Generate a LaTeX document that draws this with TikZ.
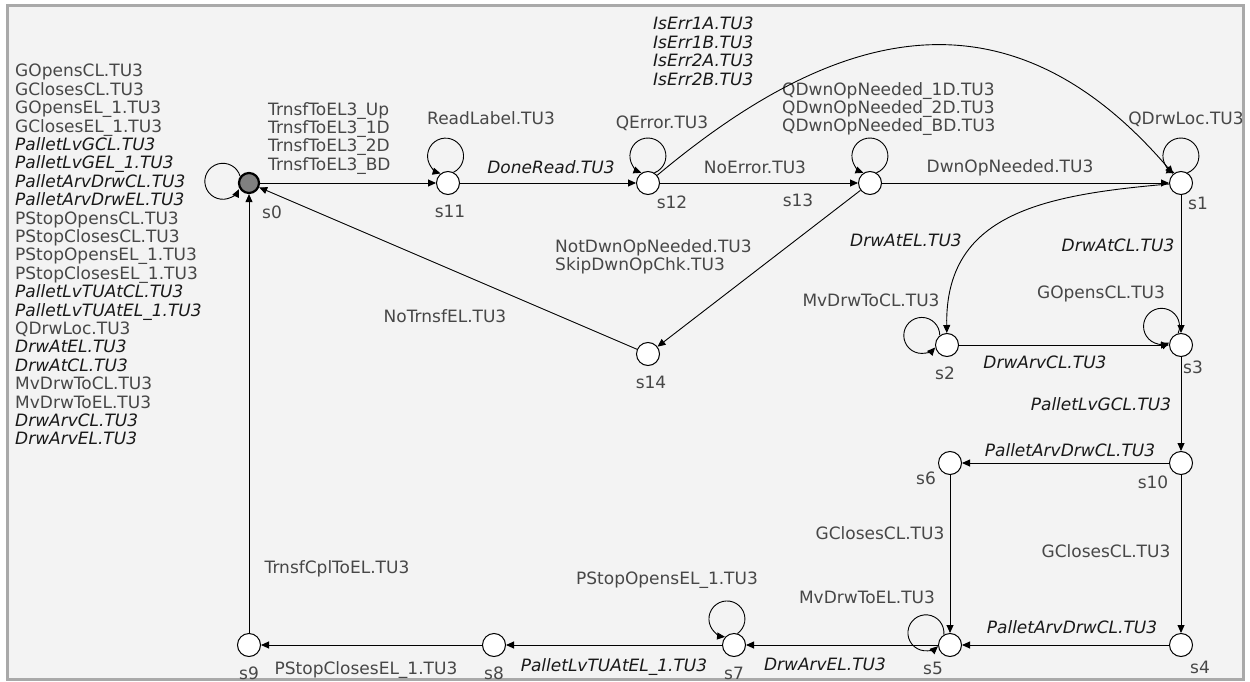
\documentclass[tikz,border=0pt]{standalone}
\usepackage{fontspec}
\setmainfont{DejaVu Sans}
\usetikzlibrary{positioning,arrows.meta}

\definecolor{panel}{HTML}{F3F3F3}
\definecolor{rim}{HTML}{A9A9A9}

% uncontrollable events are set in italics
\newcommand{\unc}[1]{{\itshape\color{black!90}#1}}

\begin{document}
\begin{tikzpicture}[x=1pt, y=1pt, >={Triangle[length=8pt,width=7pt]},
    state/.style={circle, draw=black, fill=white, line width=1pt, minimum size=23pt, inner sep=0pt},
    initstate/.style={state, fill=black!50, line width=2.2pt, minimum size=20pt},
    lbl/.style={font=\fontsize{17}{18.4}\selectfont, text=black!72, inner sep=0pt, text height=12.4pt, text depth=0pt},
    lblock/.style={font=\fontsize{17}{18.4}\selectfont, text=black!72, inner sep=0pt, align=left, anchor=north west},
    trans/.style={->, line width=0.9pt},
    on grid]
    \useasboundingbox (0,0) rectangle (1250,-682);
    \fill[white] (0,0) rectangle (1250,-682);
    \filldraw[fill=panel, draw=rim, line width=3pt] (7,-6) rectangle (1243,-679);
    % states
    \node[initstate] (s0)  at (249,-183)                          {};
    \node[state]     (s11) [right=199pt of s0]                    {};
    \node[state]     (s12) [right=200pt of s11]                   {};
    \node[state]     (s13) [right=222pt of s12]                   {};
    \node[state]     (s1)  [right=311pt of s13]                   {};
    \node[state]     (s14) [below=171pt of s12]                   {};
    \node[state]     (s2)  [below left=162pt and 234pt of s1]     {};
    \node[state]     (s3)  [below=162pt of s1]                    {};
    \node[state]     (s10) [below=118pt of s3]                    {};
    \node[state]     (s6)  [left=231pt of s10]                    {};
    \node[state]     (s4)  [below=182pt of s10]                   {};
    \node[state]     (s5)  [left=231pt of s4]                     {};
    \node[state]     (s7)  [left=216pt of s5]                     {};
    \node[state]     (s8)  [left=240pt of s7]                     {};
    \node[state]     (s9)  [left=245pt of s8]                     {};
    % state names
    \node[lbl] (n0)  [below right=29pt and 23pt of s0]  {s0};
    \node[lbl] (n11) [below right=28pt and 2pt of s11]  {s11};
    \node[lbl] (n12) [below right=19pt and 24pt of s12] {s12};
    \node[lbl] (n13) [below left=17pt and 72pt of s13]  {s13};
    \node[lbl] (n1)  [below right=20pt and 17pt of s1]  {s1};
    \node[lbl] (n14) [below right=28pt and 3pt of s14]  {s14};
    \node[lbl] (n2)  [below left=28pt and 2pt of s2]    {s2};
    \node[lbl] (n3)  [below right=22pt and 12pt of s3]  {s3};
    \node[lbl] (n10) [below left=19pt and 28pt of s10]  {s10};
    \node[lbl] (n6)  [below left=15pt and 24pt of s6]   {s6};
    \node[lbl] (n4)  [below right=22pt and 19pt of s4]  {s4};
    \node[lbl] (n5)  [below left=23pt and 17pt of s5]   {s5};
    \node[lbl] (n7)  [below=28pt of s7]                 {s7};
    \node[lbl] (n8)  [below=28pt of s8]                 {s8};
    \node[lbl] (n9)  [below=28pt of s9]                 {s9};
    % event labels
    \node[lblock] (ev-s0) at (15,-64) {GOpensCL.TU3\\ GClosesCL.TU3\\ GOpensEL\_1.TU3\\ GClosesEL\_1.TU3\\
        \unc{PalletLvGCL.TU3}\\ \unc{PalletLvGEL\_1.TU3}\\ \unc{PalletArvDrwCL.TU3}\\ \unc{PalletArvDrwEL.TU3}\\
        PStopOpensCL.TU3\\ PStopClosesCL.TU3\\ PStopOpensEL\_1.TU3\\ PStopClosesEL\_1.TU3\\
        \unc{PalletLvTUAtCL.TU3}\\ \unc{PalletLvTUAtEL\_1.TU3}\\ QDrwLoc.TU3\\ \unc{DrwAtEL.TU3}\\ \unc{DrwAtCL.TU3}\\
        MvDrwToCL.TU3\\ MvDrwToEL.TU3\\ \unc{DrwArvCL.TU3}\\ \unc{DrwArvEL.TU3}};
    \node[lblock] (ev-s0-s11)  at (268,-102) {TrnsfToEL3\_Up\\ TrnsfToEL3\_1D\\ TrnsfToEL3\_2D\\ TrnsfToEL3\_BD};
    \node[lblock] (ev-s12-s1)  at (653,-17)  {\unc{IsErr1A.TU3}\\ \unc{IsErr1B.TU3}\\ \unc{IsErr2A.TU3}\\ \unc{IsErr2B.TU3}};
    \node[lblock] (ev-s13)     at (782,-82)  {QDwnOpNeeded\_1D.TU3\\ QDwnOpNeeded\_2D.TU3\\ QDwnOpNeeded\_BD.TU3};
    \node[lblock] (ev-s13-s14) at (555,-239) {NotDwnOpNeeded.TU3\\ SkipDwnOpChk.TU3};
    \node[lbl] (ev-s11)     at (491,-118)  {ReadLabel.TU3};
    \node[lbl] (ev-s11-s12) at (551,-167)  {\unc{DoneRead.TU3}};
    \node[lbl] (ev-s12)     at (662,-122)  {QError.TU3};
    \node[lbl] (ev-s12-s13) at (755,-167)  {NoError.TU3};
    \node[lbl] (ev-s1)      at (1186,-118) {QDrwLoc.TU3};
    \node[lbl] (ev-s13-s1)  at (1010,-166) {DwnOpNeeded.TU3};
    \node[lbl] (ev-s14-s0)  at (445,-316)  {NoTrnsfEL.TU3};
    \node[lbl] (ev-s1-s2)   at (906,-240)  {\unc{DrwAtEL.TU3}};
    \node[lbl] (ev-s1-s3)   at (1118,-245) {\unc{DrwAtCL.TU3}};
    \node[lbl] (ev-s2)      at (871,-300)  {MvDrwToCL.TU3};
    \node[lbl] (ev-s3)      at (1101,-292) {GOpensCL.TU3};
    \node[lbl] (ev-s2-s3)   at (1045,-362) {\unc{DrwArvCL.TU3}};
    \node[lbl] (ev-s3-s10)  at (1101,-404) {\unc{PalletLvGCL.TU3}};
    \node[lbl] (ev-s10-s6)  at (1070,-450) {\unc{PalletArvDrwCL.TU3}};
    \node[lbl] (ev-s10-s4)  at (1106,-551) {GClosesCL.TU3};
    \node[lbl] (ev-s6-s5)   at (880,-533)  {GClosesCL.TU3};
    \node[lbl] (ev-s4-s5)   at (1072,-627) {\unc{PalletArvDrwCL.TU3}};
    \node[lbl] (ev-s5)      at (867,-597)  {MvDrwToEL.TU3};
    \node[lbl] (ev-s5-s7)   at (825,-664)  {\unc{DrwArvEL.TU3}};
    \node[lbl] (ev-s7)      at (667,-578)  {PStopOpensEL\_1.TU3};
    \node[lbl] (ev-s7-s8)   at (614,-665)  {\unc{PalletLvTUAtEL\_1.TU3}};
    \node[lbl] (ev-s8-s9)   at (366,-668)  {PStopClosesEL\_1.TU3};
    \node[lbl] (ev-s9-s0)   at (337,-567)  {TrnsfCplToEL.TU3};
    % transitions
    \draw[trans] (s0)  -- (s11);
    \draw[trans] (s11) -- (s12);
    \draw[trans] (s12) -- (s13);
    \draw[trans] (s13) -- (s1);
    \draw[trans] (s12) .. controls (819,-40) and (998,31) .. (s1);
    \draw[trans] (s13) -- (s14);
    \draw[trans] (s14) -- (s0);
    \draw[trans] (s1)  -- (s3);
    \draw[trans] (s1)  .. controls (1040,-195) and (945,-215) .. (s2);
    \draw[trans] (s2)  -- (s3);
    \draw[trans] (s3)  -- (s10);
    \draw[trans] (s10) -- (s6);
    \draw[trans] (s10) -- (s4);
    \draw[trans] (s6)  -- (s5);
    \draw[trans] (s4)  -- (s5);
    \draw[trans] (s5)  -- (s7);
    \draw[trans] (s7)  -- (s8);
    \draw[trans] (s8)  -- (s9);
    \draw[trans] (s9)  -- (s0);
    % self loops, radius 18pt round a centre 27pt out from the state
    \draw[trans] (s0.143)  arc[start angle=16,   end angle=334, radius=18pt];
    \draw[trans] (s11.63)  arc[start angle=-64,  end angle=254, radius=18pt];
    \draw[trans] (s12.58)  arc[start angle=-69,  end angle=249, radius=18pt];
    \draw[trans] (s13.58)  arc[start angle=-69,  end angle=249, radius=18pt];
    \draw[trans] (s1.58)   arc[start angle=-69,  end angle=249, radius=18pt];
    \draw[trans] (s2.127)  arc[start angle=0,    end angle=318, radius=18pt];
    \draw[trans] (s3.104)  arc[start angle=-23,  end angle=295, radius=18pt];
    \draw[trans] (s5.121)  arc[start angle=-6,   end angle=312, radius=18pt];
    \draw[trans] (s7.73)   arc[start angle=-54,  end angle=264, radius=18pt];
\end{tikzpicture}
\end{document}
